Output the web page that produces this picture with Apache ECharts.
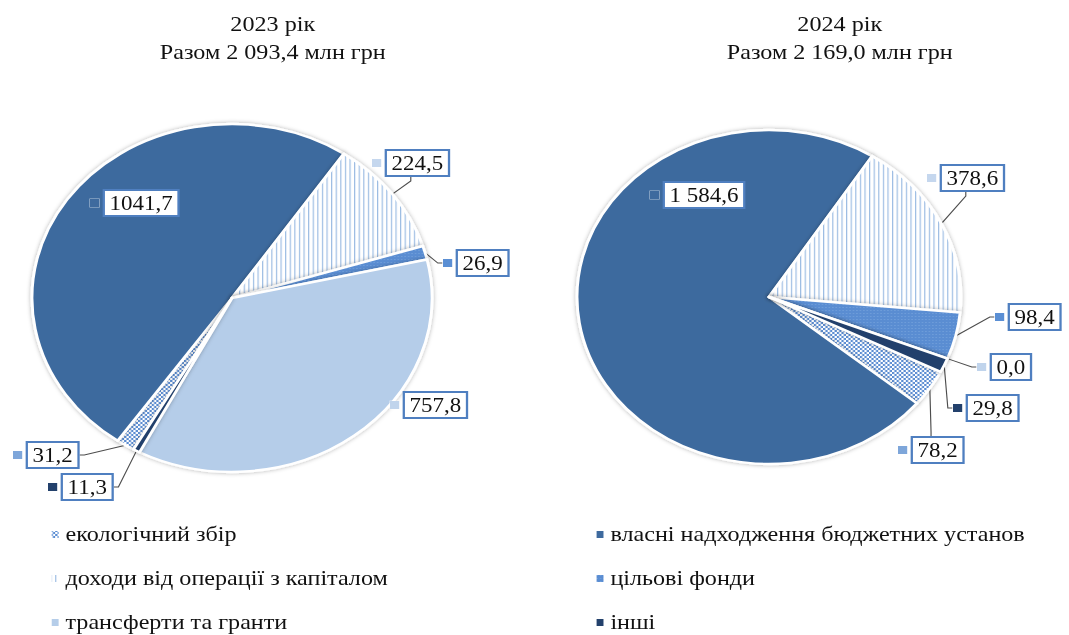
<!DOCTYPE html>
<html>
<head>
<meta charset="utf-8">
<script src="https://cdn.jsdelivr.net/npm/echarts@6/dist/echarts.min.js"></script>
<style>
  html, body { margin: 0; padding: 0; background: #fff; overflow: hidden; }
  #wrap { width: 1069px; height: 635px; overflow: hidden; }
  /* the source picture is stretched sideways, so the whole chart is drawn narrow and widened */
  #budgetPies { width: 930px; height: 635px; transform: scaleX(1.1495); transform-origin: 0 0; }
</style>
</head>
<body>
<div id="wrap"><div id="budgetPies"></div></div>
<script>
// slices in drawing order (clockwise)
var categories = [
  "екологічний збір",
  "власні надходження бюджетних установ",
  "доходи від операції з капіталом",
  "цільові фонди",
  "трансферти та гранти",
  "інші"
];
var values2023 = [31.2, 1041.7, 224.5, 26.9, 757.8, 11.3];
var values2024 = [78.2, 1584.6, 378.6, 98.4, 0.0, 29.8];
var labels2023 = ["31,2", "1041,7", "224,5", "26,9", "757,8", "11,3"];
var labels2024 = ["78,2", "1 584,6", "378,6", "98,4", "0,0", "29,8"];
var titles = ["2023 рік\nРазом 2 093,4 млн грн", "2024 рік\nРазом 2 169,0 млн грн"];
var legendLeft = [categories[0], categories[2], categories[4]];
var legendRight = [categories[1], categories[3], categories[5]];

var SX = 1.1495;
var FONT = "'Liberation Serif', 'DejaVu Serif', serif";

function pattern(w, h, draw) {
  var c = document.createElement("canvas");
  c.width = w;
  c.height = h;
  draw(c.getContext("2d"));
  return { image: c, repeat: "repeat" };
}
var ecoFill = pattern(4, 4, function (ctx) {
  ctx.fillStyle = "#ffffff"; ctx.fillRect(0, 0, 4, 4);
  ctx.fillStyle = "#5b8dd2"; ctx.fillRect(0, 0, 2, 2); ctx.fillRect(2, 2, 2, 2);
});
var capitalFill = pattern(4, 4, function (ctx) {
  ctx.fillStyle = "#ffffff"; ctx.fillRect(0, 0, 4, 4);
  ctx.fillStyle = "#9dbde3"; ctx.fillRect(0, 0, 1, 4);
});
var targetFill = pattern(3, 3, function (ctx) {
  ctx.fillStyle = "#5a8dd2"; ctx.fillRect(0, 0, 3, 3);
  ctx.fillStyle = "#79a5dd"; ctx.fillRect(1, 1, 1, 1);
});
var fills = [ecoFill, "#3e6a9e", capitalFill, targetFill, "#b5cde9", "#23416c"];
var keyColors = ["#7ea6da", "#3e6a9e", "#c5d7ee", "#5b8fd4", "#c0d4ec", "#23416c"];

// where each data label sits (left edge of the key square, middle of the box), screen px
var labelSpots = [
  [[13, 455], [90, 203], [372, 163], [443, 263], [390, 405], [48, 487]],
  [[898, 450], [650, 195], [927, 178], [995, 317], [977, 367], [953, 408]]
];
var showLeader = [
  [true, false, true, true, false, true],
  [true, false, true, true, true, true]
];

function pieSeries(k, values, labels, center, radius, startAngle) {
  return {
    type: "pie",
    center: center,
    radius: radius,
    startAngle: startAngle,
    clockwise: true,
    avoidLabelOverlap: false,
    animation: false,
    emphasis: { disabled: true },
    itemStyle: {
      borderColor: "#fff",
      borderWidth: 2.5,
      shadowBlur: 4,
      shadowColor: "rgba(0,0,0,0.3)"
    },
    labelLine: { length2: 4, lineStyle: { color: "#4d4d4d", width: 1 } },
    labelLayout: function (p) {
      var s = labelSpots[k][p.dataIndex];
      return { x: s[0] / SX, y: s[1], align: "left", verticalAlign: "middle" };
    },
    data: values.map(function (v, i) {
      return {
        name: categories[i],
        value: v,
        itemStyle: { color: fills[i] },
        labelLine: { show: showLeader[k][i] },
        label: {
          formatter: "{k|}{g|}{b|" + labels[i] + "}",
          rich: {
            k: { width: 8, height: 8, backgroundColor: keyColors[i], borderColor: "rgba(255,255,255,0.6)", borderWidth: 0.5 },
            g: { width: 5 },
            b: {
              fontFamily: FONT,
              fontSize: 20,
              lineHeight: 22,
              color: "#111",
              backgroundColor: "#fff",
              borderColor: "#4f7fc0",
              borderWidth: 2,
              padding: [3, 4, 1, 4]
            }
          }
        }
      };
    })
  };
}

var myChart = echarts.init(document.getElementById("budgetPies"), null, { renderer: "svg" });
var legendBase = {
  orient: "vertical",
  top: 524,
  height: 130,
  padding: 0,
  itemWidth: 8,
  itemHeight: 9,
  itemGap: 23,
  icon: "rect",
  selectedMode: false,
  textStyle: { fontFamily: FONT, fontSize: 21, lineHeight: 20, color: "#111" }
};
var titleStyle = { fontFamily: FONT, fontSize: 21, lineHeight: 28, fontWeight: "normal", color: "#111" };
var option = {
  backgroundColor: "#fff",
  animation: false,
  title: [
    { text: titles[0], left: 267 / SX, top: 5, textAlign: "center", textStyle: titleStyle },
    { text: titles[1], left: 834 / SX, top: 5, textAlign: "center", textStyle: titleStyle }
  ],
  legend: [
    Object.assign({}, legendBase, { data: legendLeft, left: 43 }),
    Object.assign({}, legendBase, { data: legendRight, left: 517 })
  ],
  series: [
    pieSeries(0, values2023, labels2023, [232 / SX, 298], 174, -119.5),
    pieSeries(1, values2024, labels2024, [769 / SX, 297], 167, -26.6)
  ]
};
myChart.setOption(option, true);
</script>
</body>
</html>
